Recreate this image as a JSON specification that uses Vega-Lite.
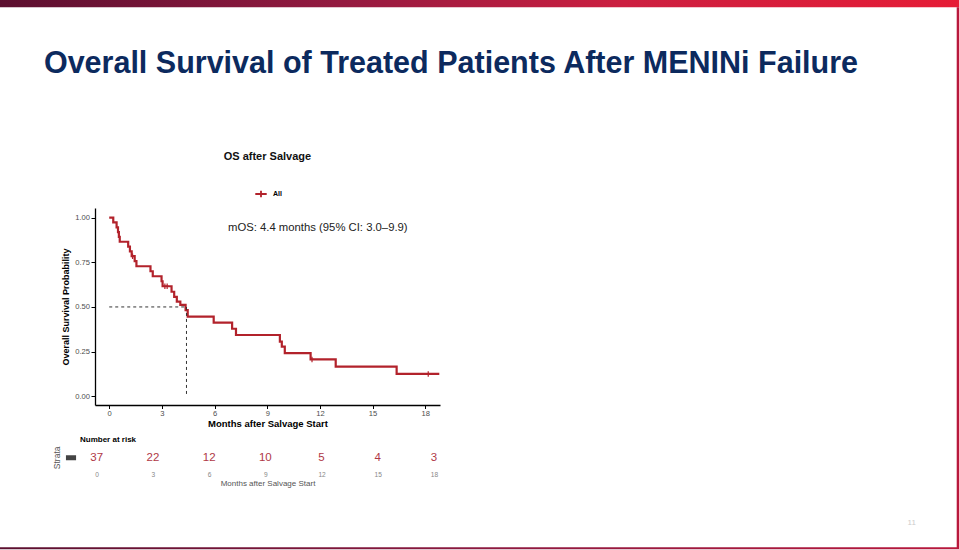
{
"$schema": "https://vega.github.io/schema/vega-lite/v6.json",
"width": 345,
"height": 197,
"autosize": {"type": "none"},
"padding": {"left": 95, "top": 208, "right": 519, "bottom": 145},
"background": "white",
"config": {"view": {"stroke": null}, "font": "Liberation Sans", "axis": {"grid": false}, "text": {"font": "Liberation Sans"}},
"datasets": {
"km": [
{"t": 0, "s": 1.0, "strata": "All"},
{"t": 0.23, "s": 0.973, "strata": "All"},
{"t": 0.42, "s": 0.946, "strata": "All"},
{"t": 0.5, "s": 0.919, "strata": "All"},
{"t": 0.55, "s": 0.892, "strata": "All"},
{"t": 0.6, "s": 0.865, "strata": "All"},
{"t": 1.08, "s": 0.838, "strata": "All"},
{"t": 1.18, "s": 0.811, "strata": "All"},
{"t": 1.28, "s": 0.784, "strata": "All"},
{"t": 1.45, "s": 0.756, "strata": "All"},
{"t": 1.55, "s": 0.728, "strata": "All"},
{"t": 2.35, "s": 0.7, "strata": "All"},
{"t": 2.48, "s": 0.672, "strata": "All"},
{"t": 2.98, "s": 0.644, "strata": "All"},
{"t": 3.04, "s": 0.616, "strata": "All"},
{"t": 3.55, "s": 0.585, "strata": "All"},
{"t": 3.7, "s": 0.556, "strata": "All"},
{"t": 3.85, "s": 0.53, "strata": "All"},
{"t": 4.05, "s": 0.512, "strata": "All"},
{"t": 4.35, "s": 0.482, "strata": "All"},
{"t": 4.47, "s": 0.446, "strata": "All"},
{"t": 5.95, "s": 0.412, "strata": "All"},
{"t": 7.0, "s": 0.378, "strata": "All"},
{"t": 7.22, "s": 0.343, "strata": "All"},
{"t": 9.72, "s": 0.306, "strata": "All"},
{"t": 9.83, "s": 0.278, "strata": "All"},
{"t": 10.0, "s": 0.242, "strata": "All"},
{"t": 11.47, "s": 0.206, "strata": "All"},
{"t": 12.9, "s": 0.166, "strata": "All"},
{"t": 16.37, "s": 0.125, "strata": "All"},
{"t": 18.8, "s": 0.125, "strata": "All"}
],
"cens": [
{"t": 1.33, "s": 0.784},
{"t": 3.17, "s": 0.616},
{"t": 3.3, "s": 0.616},
{"t": 11.55, "s": 0.206},
{"t": 18.17, "s": 0.125}
],
"med": [
{"t": 0, "s": 0.5, "t2": 4.4, "s2": 0.5},
{"t": 4.4, "s": 0.5, "t2": 4.4, "s2": 0}
],
"risk": [
{"t": 0, "n": 37},
{"t": 3, "n": 22},
{"t": 6, "n": 12},
{"t": 9, "n": 10},
{"t": 12, "n": 5},
{"t": 15, "n": 4},
{"t": 18, "n": 3}
]
},
"layer": [
{
"layer": [
{
"data": {"name": "km"},
"mark": {"type": "line", "interpolate": "step-after", "strokeWidth": 2.2, "clip": false},
"encoding": {
"x": {"field": "t", "type": "quantitative", "scale": {"domain": [-0.81, 18.84], "nice": false, "zero": false},
"axis": {"values": [0, 3, 6, 9, 12, 15, 18], "title": "Months after Salvage Start", "titleFontSize": 9.5, "titleFontWeight": "bold", "titleColor": "#000", "titlePadding": 1, "labelFontSize": 7.6, "labelColor": "#4d4d4d", "labelPadding": 1, "tickSize": 3.5, "tickColor": "#000", "domainColor": "#000", "domainWidth": 1.3, "labelFont": "Liberation Sans", "titleFont": "Liberation Sans"}},
"y": {"field": "s", "type": "quantitative", "scale": {"domain": [-0.049, 1.054], "nice": false, "zero": false},
"axis": {"values": [0, 0.25, 0.5, 0.75, 1], "format": ".2f", "title": "Overall Survival Probability", "titleFontSize": 9, "titleFontWeight": "bold", "titleColor": "#000", "titlePadding": 4, "labelFontSize": 7.6, "labelColor": "#4d4d4d", "labelPadding": 1.5, "tickSize": 4, "tickColor": "#000", "domainColor": "#000", "domainWidth": 1.3, "labelFont": "Liberation Sans", "titleFont": "Liberation Sans"}},
"color": {"field": "strata", "type": "nominal", "scale": {"range": ["#b2222b"]},
"legend": {"orient": "none", "legendX": 159, "legendY": -21, "title": null, "direction": "horizontal", "symbolType": "M-1,0L1,0M0,-0.55L0,0.55", "symbolSize": 130, "symbolStrokeWidth": 1.8, "labelFont": "Liberation Sans", "labelFontSize": 7, "labelFontWeight": "bold", "labelColor": "#000", "labelOffset": 5}}
}
},
{
"data": {"name": "cens"},
"mark": {"type": "point", "shape": "M0,-1L0,1M-0.6,0L0.6,0", "size": 30, "strokeWidth": 1.2, "color": "#b2222b", "filled": false, "opacity": 1, "clip": false},
"encoding": {
"x": {"field": "t", "type": "quantitative"},
"y": {"field": "s", "type": "quantitative"}
}
},
{
"data": {"name": "med"},
"mark": {"type": "rule", "color": "#333333", "strokeDash": [3, 3], "strokeWidth": 1, "clip": false},
"encoding": {
"x": {"field": "t", "type": "quantitative"},
"y": {"field": "s", "type": "quantitative"},
"x2": {"field": "t2"},
"y2": {"field": "s2"}
}
},
{
"data": {"values": [{"label": "mOS: 4.4 months (95% CI: 3.0\u20139.9)"}]},
"mark": {"type": "text", "fontSize": 11.3, "color": "#222222", "align": "center", "baseline": "middle", "clip": false},
"encoding": {
"x": {"datum": 11.88, "type": "quantitative"},
"y": {"datum": 0.942, "type": "quantitative"},
"text": {"field": "label"}
}
},
{
"data": {"values": [{"label": "OS after Salvage"}]},
"mark": {"type": "text", "fontSize": 11, "fontWeight": "bold", "color": "#111111", "align": "center", "baseline": "middle", "clip": false},
"encoding": {
"x": {"datum": 9.01, "type": "quantitative"},
"y": {"datum": 1.339, "type": "quantitative"},
"text": {"field": "label"}
}
},
{
"data": {"values": [{"label": "Overall Survival of Treated Patients After MENINi Failure"}]},
"mark": {"type": "text", "fontSize": 30.5, "fontWeight": "bold", "color": "#0c2a5e", "align": "left", "baseline": "alphabetic", "clip": false},
"encoding": {
"x": {"datum": -3.72, "type": "quantitative"},
"y": {"datum": 1.809, "type": "quantitative"},
"text": {"field": "label"}
}
},
{
"data": {"values": [{"label": "11"}]},
"mark": {"type": "text", "fontSize": 8, "color": "#cccccc", "align": "center", "baseline": "middle", "clip": false},
"encoding": {
"x": {"datum": 45.71, "type": "quantitative"},
"y": {"datum": -0.709, "type": "quantitative"},
"text": {"field": "label"}
}
},
{
"data": {"values": [{"part": "top bar"}]},
"mark": {"type": "rect", "clip": false, "fill": {"gradient": "linear", "x1": 0, "y1": 0, "x2": 1, "y2": 0, "stops": [{"offset": 0, "color": "#5b0f2f"}, {"offset": 0.35, "color": "#931a40"}, {"offset": 0.65, "color": "#cc1f40"}, {"offset": 1, "color": "#e61c36"}]}},
"encoding": {
"x": {"datum": -6.3, "type": "quantitative"},
"x2": {"datum": 48.5},
"y": {"datum": 2.23, "type": "quantitative"},
"y2": {"datum": 2.178}
}
},
{
"data": {"values": [{"part": "right border"}]},
"mark": {"type": "rect", "clip": false, "color": "#b8183c"},
"encoding": {
"x": {"datum": 48.27, "type": "quantitative"},
"x2": {"datum": 48.5},
"y": {"datum": 2.178, "type": "quantitative"},
"y2": {"datum": -0.849}
}
},
{
"data": {"values": [{"part": "bottom border"}]},
"mark": {"type": "rect", "clip": false, "fill": {"gradient": "linear", "x1": 0, "y1": 0, "x2": 1, "y2": 0, "stops": [{"offset": 0, "color": "#5b0f2f"}, {"offset": 0.5, "color": "#8c1a40"}, {"offset": 1, "color": "#b8183c"}]}},
"encoding": {
"x": {"datum": -6.3, "type": "quantitative"},
"x2": {"datum": 48.5},
"y": {"datum": -0.846, "type": "quantitative"},
"y2": {"datum": -0.857}
}
}
]
},
{
"layer": [
{
"data": {"name": "risk"},
"mark": {"type": "text", "fontSize": 11.5, "color": "#b03846", "align": "center", "baseline": "middle", "clip": false},
"encoding": {
"x": {"field": "t", "type": "quantitative", "scale": {"domain": [-0.09, 18.32], "nice": false, "zero": false},
"axis": {"orient": "bottom", "offset": 64, "values": [0, 3, 6, 9, 12, 15, 18], "domain": false, "ticks": false, "tickSize": 0, "labelPadding": 2, "labelFontSize": 6.6, "labelColor": "#888888", "title": "Months after Salvage Start", "titleFontSize": 8, "titleFontWeight": "normal", "titleColor": "#555555", "titlePadding": 2, "labelFont": "Liberation Sans", "titleFont": "Liberation Sans"}},
"y": {"datum": -0.345, "type": "quantitative"},
"text": {"field": "n", "type": "quantitative"}
}
},
{
"data": {"values": [{"label": "Number at risk"}]},
"mark": {"type": "text", "fontSize": 8, "fontWeight": "bold", "color": "#000000", "align": "left", "baseline": "middle", "clip": false},
"encoding": {
"x": {"datum": -0.89, "type": "quantitative"},
"y": {"datum": -0.245, "type": "quantitative"},
"text": {"field": "label"}
}
},
{
"data": {"values": [{"label": "Strata"}]},
"mark": {"type": "text", "fontSize": 8.5, "angle": 270, "color": "#555555", "align": "center", "baseline": "middle", "clip": false},
"encoding": {
"x": {"datum": -2.12, "type": "quantitative"},
"y": {"datum": -0.345, "type": "quantitative"},
"text": {"field": "label"}
}
},
{
"data": {"values": [{"strata": "All"}]},
"mark": {"type": "rect", "color": "#444444", "clip": false},
"encoding": {
"x": {"datum": -1.64, "type": "quantitative"},
"x2": {"datum": -1.1},
"y": {"datum": -0.331, "type": "quantitative"},
"y2": {"datum": -0.359}
}
}
]
}
],
"resolve": {"scale": {"x": "independent"}, "axis": {"x": "independent"}}
}
